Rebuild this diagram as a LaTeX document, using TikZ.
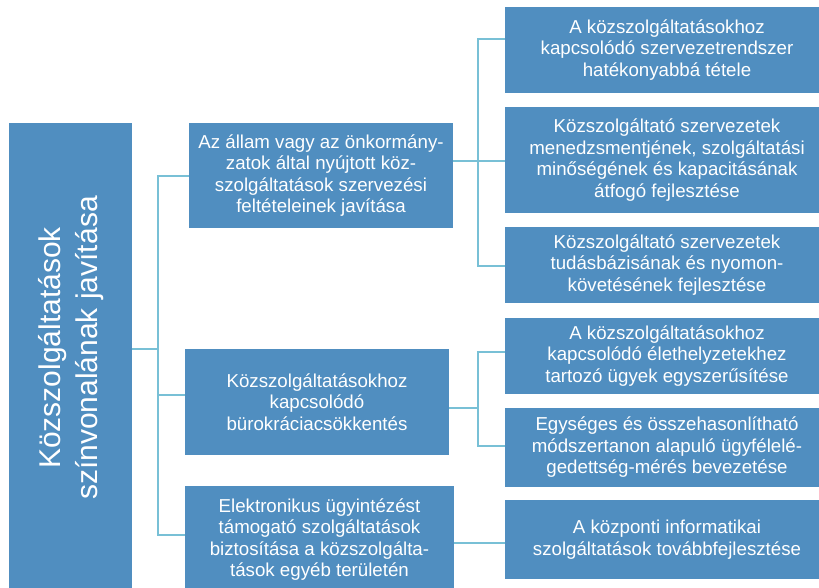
\documentclass[tikz,border=0pt]{standalone}
\usepackage{fontspec}
\setmainfont{Liberation Sans}
\definecolor{boxblue}{HTML}{508EC0}
\definecolor{linkblue}{HTML}{78C0D6}
\begin{document}
\begin{tikzpicture}[x=1pt,y=-1pt,
  box/.style={fill=boxblue, text=white, align=center, inner sep=0pt, outer sep=0pt,
    anchor=north west, font=\fontsize{18.7}{21.5}\selectfont},
  link/.style={draw=linkblue, line width=2.6pt}]
\useasboundingbox (0,0) rectangle (819,587);
\fill[white] (0,0) rectangle (819,587);

% root
\node[box, minimum width=123pt, minimum height=472pt] (root) at (9,123) {};
\node[text=white, rotate=90, align=center, inner sep=0pt,
  font=\fontsize{30}{37}\selectfont] (roottitle) at (71,348)
  {Közszolgáltatások\\színvonalának javítása};

% level 1
\node[box, minimum width=264pt, minimum height=105pt] (A) at (189,123)
  {Az állam vagy az önkormány-\\zatok által nyújtott köz-\\szolgáltatások szervezési\\feltételeinek javítása};
\node[box, minimum width=264pt, minimum height=106pt] (B) at (185,349)
  {Közszolgáltatásokhoz\\kapcsolódó\\bürokráciacsökkentés};
\node[box, minimum width=269pt, minimum height=107pt] (C) at (185,486)
  {Elektronikus ügyintézést\\támogató szolgáltatások\\biztosítása a közszolgálta-\\tások egyéb területén};

% level 2
\node[box, minimum width=324pt, minimum height=86pt] (L1) at (505,7)
  {A közszolgáltatásokhoz\\kapcsolódó szervezetrendszer\\hatékonyabbá tétele};
\node[box, minimum width=324pt, minimum height=106pt] (L2) at (505,107)
  {Közszolgáltató szervezetek\\menedzsmentjének, szolgáltatási\\minőségének és kapacitásának\\átfogó fejlesztése};
\node[box, minimum width=324pt, minimum height=76pt] (L3) at (505,227)
  {Közszolgáltató szervezetek\\tudásbázisának és nyomon-\\követésének fejlesztése};
\node[box, minimum width=324pt, minimum height=76pt] (L4) at (505,318)
  {A közszolgáltatásokhoz\\kapcsolódó élethelyzetekhez\\tartozó ügyek egyszerűsítése};
\node[box, minimum width=324pt, minimum height=79pt] (L5) at (505,408)
  {Egységes és összehasonlítható\\módszertanon alapuló ügyfélelé-\\gedettség-mérés bevezetése};
\node[box, minimum width=324pt, minimum height=79pt] (L6) at (505,500)
  {A központi informatikai\\szolgáltatások továbbfejlesztése};

% root connectors
\coordinate (rj) at (158,349);
\coordinate (tA) at (158,176);
\coordinate (tB) at (158,395);
\coordinate (tC) at (158,535);
\draw[link] (rj -| root.east) -- (rj);
\draw[link] (tA -| A.west) -- (tA) -- (tC) -- (tC -| C.west);
\draw[link] (tB) -- (tB -| B.west);

% A connectors
\coordinate (aj) at (478,161);
\coordinate (a1) at (478,39);
\coordinate (a3) at (478,266);
\draw[link] (aj -| A.east) -- (aj -| L2.west);
\draw[link] (a1 -| L1.west) -- (a1) -- (a3) -- (a3 -| L3.west);

% B connectors
\coordinate (bj) at (478,408);
\coordinate (b4) at (478,352);
\coordinate (b5) at (478,446);
\draw[link] (bj -| B.east) -- (bj);
\draw[link] (b4 -| L4.west) -- (b4) -- (b5) -- (b5 -| L5.west);

% C connector
\coordinate (cj) at (480,543);
\draw[link] (cj -| C.east) -- (cj -| L6.west);
\end{tikzpicture}
\end{document}
